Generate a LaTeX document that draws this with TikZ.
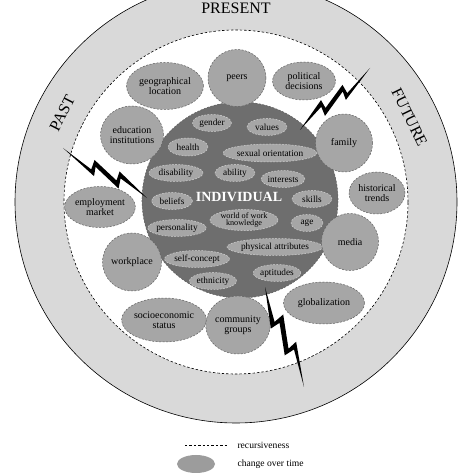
\documentclass[tikz,border=0pt]{standalone}
\usepackage{fontspec}
\setmainfont{Liberation Serif}
\usetikzlibrary{shapes.geometric}
\definecolor{ringgray}{HTML}{D9D9D9}
\definecolor{blobgray}{HTML}{A6A6A6}
\definecolor{coregray}{HTML}{6E6E6E}
\definecolor{edgegray}{HTML}{606060}
\definecolor{softedge}{HTML}{D0D0D0}
\definecolor{keygray}{HTML}{9C9C9C}
\tikzset{
  ring/.style={fill=ringgray, draw=black, line width=0.6pt},
  recursive/.style={draw=black, dash pattern=on 2.4pt off 2pt, line width=0.6pt},
  blob/.style 2 args={minimum width=#1pt, minimum height=#2pt},
  context/.style={
    ellipse,
    fill=blobgray,
    draw=edgegray,
    dash pattern=on 2pt off 1.5pt,
    line width=0.5pt,
    inner sep=0pt,
    align=center,
    font=\fontsize{10}{9.6}\selectfont
  },
  trait/.style={
    ellipse,
    fill=blobgray,
    draw=softedge,
    dash pattern=on 1.8pt off 1.4pt,
    line width=0.5pt,
    inner sep=0pt,
    align=center,
    minimum height=17pt,
    font=\fontsize{9.3}{8.4}\selectfont
  },
  core/.style={circle, fill=coregray, draw=edgegray, dash pattern=on 2pt off 1.5pt, line width=0.6pt, inner sep=0pt},
  timelabel/.style={font=\fontsize{16}{16}\selectfont},
  keytext/.style={anchor=west, font=\fontsize{9.6}{10}\selectfont},
  bolt/.pic={
    \fill[black] (0,0) -- (0.42,-0.085) -- (0.385,0.005) -- (0.70,-0.065)
      -- (0.665,0.035) -- (1,0) -- (0.62,0.09) -- (0.64,-0.005)
      -- (0.34,0.06) -- (0.36,-0.04) -- cycle;
  }
}

\begin{document}
\begin{tikzpicture}[x=1pt,y=1pt]
  \path[use as bounding box] (0,0) rectangle (474,474);
  \clip (0,0) rectangle (474,474);

  \coordinate (hub) at (236,272);

  % time ring and recursiveness boundary
  \draw[ring] (hub) circle[radius=221];
  \fill[white] (hub) circle[radius=172];
  \draw[recursive] (hub) circle[radius=172];

  \node[timelabel] (present) at ([shift={(90:194pt)}]hub) {PRESENT};
  \node[timelabel, rotate=63] (past) at ([shift={(153:195pt)}]hub) {PAST};
  \node[timelabel, rotate=-64] (future) at ([shift={(26:193pt)}]hub) {FUTURE};

  % individual system
  \node[core, minimum size=196pt] (individual) at (240,274) {};

  \node[trait, minimum width=39pt] (gender) at (212,351) {gender};
  \node[trait, minimum width=40pt] (values) at (267,347) {values};
  \node[trait, minimum width=40pt, minimum height=18pt] (health) at (188,327) {health};
  \node[trait, minimum width=76pt, minimum height=18pt] (sexual) at (270,321) {sexual orientation};
  \node[trait, minimum width=54pt] (disability) at (176,301) {disability};
  \node[trait, minimum width=40pt] (ability) at (235,301) {ability};
  \node[trait, minimum width=42pt] (interests) at (283,295) {interests};
  \node[trait, minimum width=41pt] (beliefs) at (172,273) {beliefs};
  \node[trait, minimum width=40pt] (skills) at (312,275) {skills};
  \node[trait, minimum width=68pt, minimum height=20pt, font=\fontsize{8.2}{7.4}\selectfont] (wowk) at (244,254)
    {world of work\\knowledge};
  \node[trait, minimum width=32pt] (age) at (307,251) {age};
  \node[trait, minimum width=58pt] (personality) at (177,246) {personality};
  \node[trait, minimum width=75pt] (physical) at (275,227) {physical attributes};
  \node[trait, minimum width=65pt] (selfconcept) at (197,215) {self-concept};
  \node[trait, minimum width=44pt] (aptitudes) at (277,201) {aptitudes};
  \node[trait, minimum width=47pt] (ethnicity) at (213,193) {ethnicity};

  \node[text=white, font=\fontsize{14}{14}\selectfont\bfseries] (indlabel) at (239,277) {INDIVIDUAL};

  % contextual system
  \node[context, blob={77}{47}] (geo) at (165,388) {geographical\\location};
  \node[context, blob={58}{57}] (peers) at (237,396) {peers};
  \node[context, blob={63}{38}] (political) at (304,393) {political\\decisions};
  \node[context, blob={57}{58}] (education) at (132,339) {education\\institutions};
  \node[context, blob={57}{58}] (family) at (344,331) {family};
  \node[context, blob={70}{41}] (employment) at (100,267) {employment\\market};
  \node[context, blob={56}{42}] (historical) at (377,281) {historical\\trends};
  \node[context, blob={57}{58}] (workplace) at (132,212) {workplace};
  \node[context, blob={57}{57}] (media) at (350,232) {media};
  \node[context, blob={81}{44}] (socio) at (164,154) {socioeconomic\\status};
  \node[context, blob={58}{58}] (community) at (238,149) {community\\groups};
  \node[context, blob={81}{42}] (global) at (324,171) {globalization};

  % chance events
  \coordinate (boltA) at (370,406);
  \coordinate (boltB) at (63,326);
  \coordinate (boltC) at (304,87);
  \pic[rotate=-138.5, yscale=-1, scale=93.5] at (boltA) {bolt};
  \pic[rotate=-30.8, scale=97.8] at (boltB) {bolt};
  \pic[rotate=111.3, scale=107.3] at (boltC) {bolt};

  % key
  \coordinate (keyL) at (185,29);
  \coordinate (keyR) at (228,29);
  \draw[recursive] (keyL) -- (keyR);
  \node[keytext] (keyrec) at (234,29) {recursiveness};
  \node[ellipse, fill=keygray, minimum width=38pt, minimum height=18pt, inner sep=0pt] (keyblob) at (196,10) {};
  \node[keytext] (keychange) at (234,10) {change over time};
\end{tikzpicture}
\end{document}
